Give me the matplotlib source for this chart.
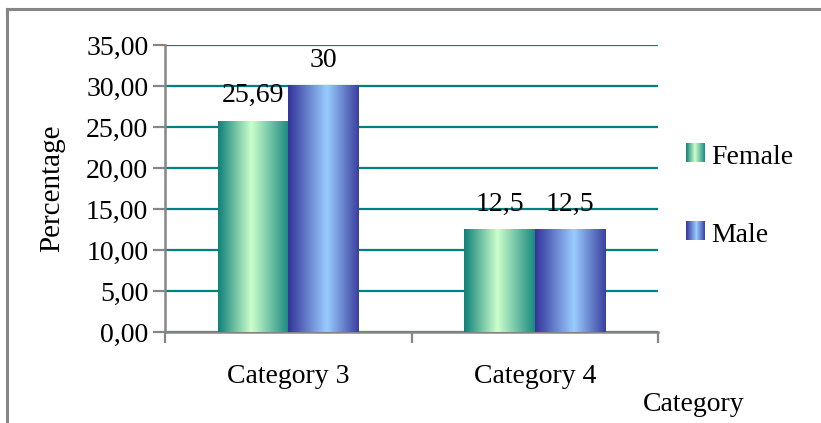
import numpy as np
import matplotlib
matplotlib.use('Agg')
import matplotlib.pyplot as plt
from matplotlib.colors import LinearSegmentedColormap
from matplotlib.legend_handler import HandlerBase
from matplotlib.image import BboxImage
from matplotlib.transforms import Bbox, TransformedBbox
from matplotlib.patches import Patch
from matplotlib.lines import Line2D

categories = ['Category 3', 'Category 4']
series = ['Female', 'Male']
female = [25.69, 12.5]
male = [30, 12.5]
yticks = [0, 5, 10, 15, 20, 25, 30, 35]

plt.rcParams['font.family'] = ['Liberation Serif', 'DejaVu Serif']
FS = 20

# horizontal gradients for the two series (dark edges, light middle)
cmaps = {
    'Female': LinearSegmentedColormap.from_list(
        'fem', [(0, '#0f8078'), (0.47, '#ccffcc'), (1, '#1a8a80')]),
    'Male': LinearSegmentedColormap.from_list(
        'mal', [(0, '#333399'), (0.55, '#99ccff'), (1, '#3a3f9e')]),
}
grad = np.linspace(0, 1, 256).reshape(1, -1)


def comma(v, fmt):
    return (fmt % v).replace('.', ',')


class GradHandler(HandlerBase):
    def create_artists(self, legend, orig_handle, xdescent, ydescent,
                       width, height, fontsize, trans):
        side = 13
        bb = Bbox.from_bounds(-xdescent, -ydescent + (height - side) / 2 + 1, side, side)
        img = BboxImage(TransformedBbox(bb, trans), cmap=cmaps[orig_handle.get_label()],
                        interpolation='bilinear')
        img.set_data(grad)
        return [img]


fig = plt.figure(figsize=(8.21, 4.23), dpi=100)
ax = fig.add_axes([0.201, 0.215, 0.6005, 0.6785])

x = np.arange(len(categories))
w = 0.286
gray = '#868686'

for vals, name, off in [(female, series[0], -w / 2), (male, series[1], w / 2)]:
    bars = ax.bar(x + off, vals, w, color='none', edgecolor='none', zorder=3)
    for b, v in zip(bars, vals):
        ax.imshow(grad, cmap=cmaps[name], aspect='auto', interpolation='bilinear',
                  extent=[b.get_x(), b.get_x() + b.get_width(), 0, b.get_height()],
                  zorder=3)
        ax.annotate(comma(v, '%g'), (b.get_x() + b.get_width() / 2, b.get_height()),
                    xytext=(0, 19), textcoords='offset pixels',
                    ha='center', va='baseline', fontsize=FS, zorder=4)

ax.set_xlim(-0.5, len(categories) - 0.5)
ax.set_ylim(0, 35)
ax.set_yticks(yticks)
ax.set_yticklabels([comma(t, '%.2f') for t in yticks], fontsize=FS)
ax.yaxis.grid(True, color='#008080', lw=1.6, zorder=0)
ax.set_axisbelow(True)

ax.set_xticks(np.arange(len(categories) + 1) - 0.5)
ax.set_xticklabels([])
ax.set_xticks(x, minor=True)
ax.set_xticklabels(categories, minor=True, fontsize=FS)
ax.tick_params(axis='x', which='minor', length=0, pad=23)
ax.tick_params(axis='x', which='major', length=8, width=1.6, color=gray)
ax.tick_params(axis='y', length=9, width=1.6, color=gray, pad=3)

for s in ['top', 'right']:
    ax.spines[s].set_visible(False)
for s in ['left', 'bottom']:
    ax.spines[s].set_color(gray)
    ax.spines[s].set_linewidth(1.8)

ax.set_ylabel('Percentage', fontsize=21, labelpad=15)
fig.text(0.783, 0.028, 'Category', fontsize=FS, ha='left', va='baseline')

handles = [Patch(label=s) for s in series]
fig.legend(handles=handles, loc='upper left', bbox_to_anchor=(0.836, 0.658),
           frameon=False, fontsize=FS, handler_map={Patch: GradHandler()},
           handlelength=0.6, handletextpad=0.3, labelspacing=1.9,
           borderpad=0, borderaxespad=0)

# outer chart frame
fig.add_artist(Line2D([0.008, 1.0], [0.978, 0.978], color=gray, lw=2.2))
fig.add_artist(Line2D([0.008, 0.008], [0.0, 0.978], color=gray, lw=2.2))

fig.savefig('out.png', dpi=100)
